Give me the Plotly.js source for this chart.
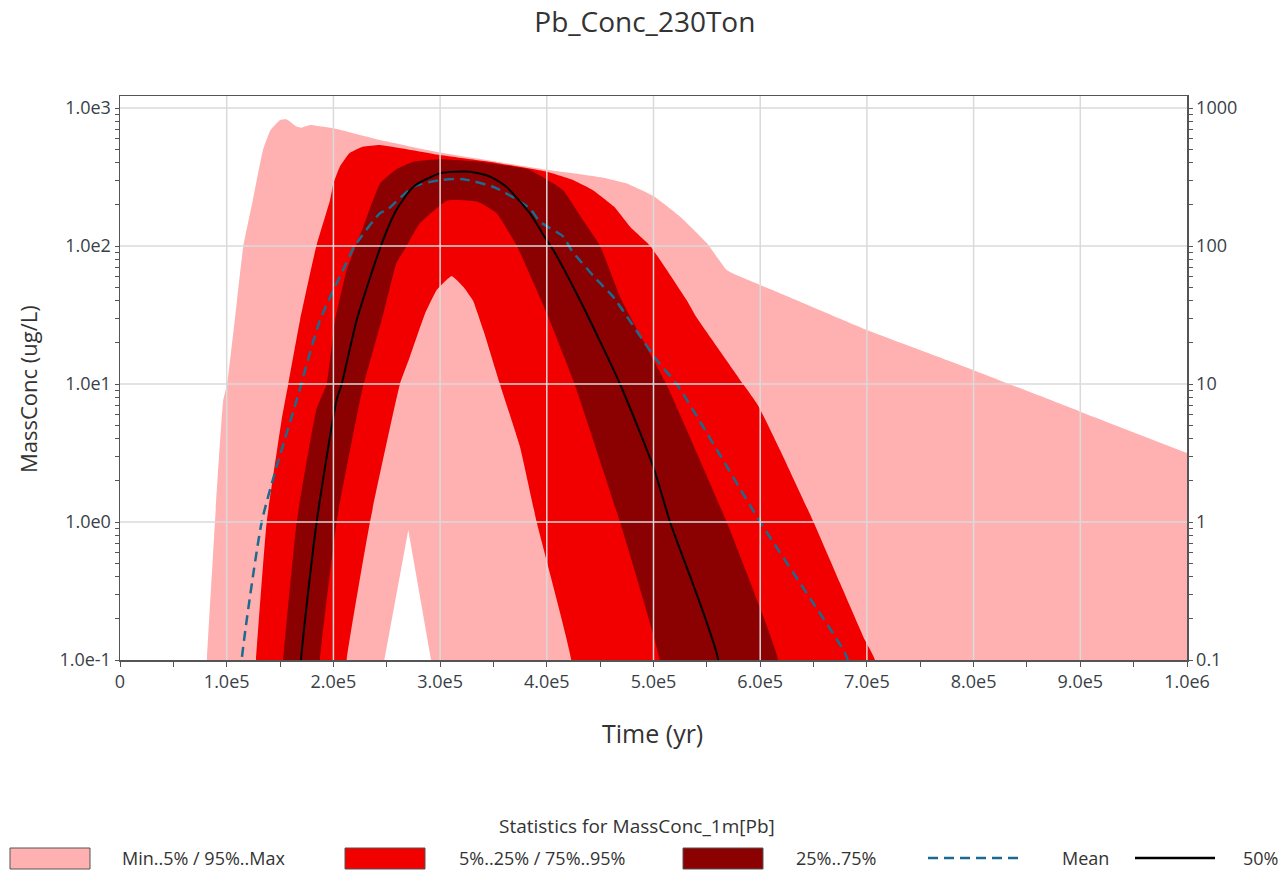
<!DOCTYPE html>
<html>
<head>
<meta charset="utf-8">
<script src="https://cdn.plot.ly/plotly-3.0.1.min.js"></script>
<style>html,body{margin:0;padding:0;background:#fff;}#chart{width:1282px;height:872px;}</style>
</head>
<body>
<div id="chart"></div>
<script>
// ---------- data (time in years, MassConc in ug/L; 0.01 = below axis) ----------
const timeMax = [0, 75000, 81500, 89000, 96800, 100500, 109700, 115600, 124500, 134000, 141000, 150000, 156000, 165600, 170000, 178000, 200000, 243700, 300000, 353000, 396000, 425000, 456000, 475000, 500000, 525000, 550000, 568600, 581000, 618600, 700000, 800000, 900000, 1000000];
const valMax  = [0.01, 0.01, 0.1, 1, 7.66, 10, 40.6, 100, 215, 496, 690, 819, 830, 733, 720, 753, 713, 586, 475, 408, 360, 336, 309, 284, 230, 163, 105, 67, 60, 45.4, 24.6, 12.6, 6.3, 3.16];

const timeMin = [0, 240000, 247700, 270200, 291500, 298000, 1000000];
const valMin  = [0.01, 0.01, 0.1, 0.875, 0.1, 0.01, 0.01];

const timeP95 = [0, 120000, 127500, 137500, 151500, 157700, 168700, 184000, 196800, 200000, 206000, 215000, 228000, 243700, 300000, 353000, 400000, 425000, 443000, 463000, 478000, 497000, 531000, 540000, 584000, 598000, 618600, 650000, 674800, 698000, 707600, 715000, 1000000];
const valP95  = [0.01, 0.01, 0.1, 1, 5.5, 10, 29, 100, 215, 284, 376, 470, 525, 540, 456, 400, 345, 300, 255, 193, 138, 100, 40.6, 30.7, 10, 7, 3.33, 1, 0.361, 0.14, 0.1, 0.01, 0.01];

const timeP5 = [0, 205000, 212500, 234300, 262400, 271800, 286000, 296800, 310800, 321700, 331000, 340500, 356000, 374900, 390500, 423000, 430000, 1000000];
const valP5  = [0.01, 0.01, 0.1, 1, 10, 15.8, 32.5, 48, 60.7, 50.7, 40, 24.6, 10, 3.5, 1, 0.1, 0.01, 0.01];

const timeP75 = [0, 145000, 153000, 165600, 184000, 193700, 201500, 212500, 228000, 243700, 259000, 275000, 300000, 337000, 384000, 415000, 435000, 450000, 470000, 512000, 568600, 617000, 625000, 1000000];
const valP75  = [0.01, 0.01, 0.1, 1, 6.5, 10, 29, 67, 138, 284, 360, 408, 425, 408, 356, 255, 150, 100, 40.6, 10, 1, 0.1, 0.01, 0.01];

const timeP25 = [0, 180000, 187400, 203000, 227000, 247000, 259000, 268700, 281000, 306000, 320000, 335000, 353000, 372000, 400000, 426000, 468600, 506000, 515000, 1000000];
const valP25  = [0.01, 0.01, 0.1, 1, 9, 32.5, 75, 100, 146, 213, 215, 210, 173, 100, 32.5, 10, 1, 0.1, 0.01, 0.01];

const timeP50 = [0, 162000, 169600, 184300, 203000, 207800, 221800, 244500, 259000, 275000, 300000, 328000, 346800, 362000, 384000, 400000, 406000, 431000, 468600, 499700, 515500, 560700, 568000, 1000000];
const valP50  = [0.01, 0.01, 0.1, 1, 7.66, 10, 29, 100, 182, 269, 336, 345, 318, 269, 173, 110, 93.6, 40.6, 10, 2.52, 1, 0.1, 0.01, 0.01];

const timeMean = [0, 105000, 114000, 132800, 146800, 165600, 187400, 209000, 220000, 243700, 250000, 275000, 300000, 321700, 353000, 384000, 393600, 415500, 423000, 446800, 462000, 503000, 521700, 600000, 678000, 682000, 690000, 1000000];
const valMean  = [0.01, 0.01, 0.1, 1, 2.52, 7.66, 29, 67, 100, 173, 182, 269, 300, 305, 262, 187, 150, 117, 93.6, 57, 43, 14.9, 10, 1, 0.118, 0.1, 0.01, 0.01];

// ---------- ticks ----------
const xTickVals = [0, 100000, 200000, 300000, 400000, 500000, 600000, 700000, 800000, 900000, 1000000];
const xTickText = ['0', '1.0e5', '2.0e5', '3.0e5', '4.0e5', '5.0e5', '6.0e5', '7.0e5', '8.0e5', '9.0e5', '1.0e6'];
const yTickVals = [0.1, 1, 10, 100, 1000];
const yTickTextLeft = ['1.0e-1', '1.0e0', '1.0e1', '1.0e2', '1.0e3'];
const yTickTextRight = ['0.1', '1', '10', '100', '1000'];

const legendLabels = ['Min..5% / 95%..Max', '5%..25% / 75%..95%', '25%..75%', 'Mean', '50%'];

// ---------- style ----------
const C_PINK = '#ffb1b1', C_RED = '#f20000', C_DARK = '#8b0000', C_MEAN = '#1a6b8e', C_MED = '#000000';
const AX = '#555555', GRID = '#dadada', TXT = '#333333';
const FONT = 'Open Sans, Noto Sans, sans-serif';
const M = {l: 120, r: 95, t: 96, b: 212};
const W = 1282, H = 872;
const PW = W - M.l - M.r, PH = H - M.t - M.b;
const yRange = [-1, 3.087];
const px2x = p => (p - M.l) / PW;
const py2y = p => (H - M.b - p) / PH;

const minorY = [];
for (let d = -1; d <= 2; d++) for (let k = 2; k <= 9; k++) minorY.push(k * Math.pow(10, d));
const minorX = [];
for (let v = 50000; v < 1000000; v += 100000) minorX.push(v);

const fillLine = {width: 0, shape: 'spline', smoothing: 0.35};
const traces = [
  {x: timeMin, y: valMin, mode: 'lines', line: {width: 0}, hoverinfo: 'skip', showlegend: false},
  {x: timeMax, y: valMax, mode: 'lines', line: fillLine, fill: 'tonexty', fillcolor: C_PINK, showlegend: false, name: legendLabels[0]},
  {x: timeP5, y: valP5, mode: 'lines', line: fillLine, hoverinfo: 'skip', showlegend: false},
  {x: timeP95, y: valP95, mode: 'lines', line: fillLine, fill: 'tonexty', fillcolor: C_RED, showlegend: false, name: legendLabels[1]},
  {x: timeP25, y: valP25, mode: 'lines', line: fillLine, hoverinfo: 'skip', showlegend: false},
  {x: timeP75, y: valP75, mode: 'lines', line: fillLine, fill: 'tonexty', fillcolor: C_DARK, showlegend: false, name: legendLabels[2]},
  {x: timeMean, y: valMean, mode: 'lines', line: {color: C_MEAN, width: 2.5, dash: '10px,6px', shape: 'spline', smoothing: 0.6}, showlegend: false, name: legendLabels[3]},
  {x: timeP50, y: valP50, mode: 'lines', line: {color: C_MED, width: 2, shape: 'spline', smoothing: 0.6}, showlegend: false, name: legendLabels[4]},
  {x: timeP50, y: valP50, mode: 'lines', yaxis: 'y2', line: {width: 0}, opacity: 0, hoverinfo: 'skip', showlegend: false}
];

// gridlines above the fills
const shapes = [];
xTickVals.slice(1, -1).forEach(v => shapes.push({type: 'line', layer: 'above', xref: 'x', yref: 'paper', x0: v, x1: v, y0: 0, y1: 1, line: {color: GRID, width: 1.5}}));
yTickVals.slice(1).forEach(v => {
  const yp = (Math.log10(v) - yRange[0]) / (yRange[1] - yRange[0]);
  shapes.push({type: 'line', layer: 'above', xref: 'paper', yref: 'paper', x0: 0, x1: 1, y0: yp, y1: yp, line: {color: GRID, width: 1.5}});
});

// axis titles + manual legend
const annotations = [];
annotations.push({xref: 'paper', yref: 'paper', x: px2x(652), y: py2y(733), text: 'Time (yr)', showarrow: false, xanchor: 'center', yanchor: 'middle', font: {family: FONT, size: 25, color: TXT}});
annotations.push({xref: 'paper', yref: 'paper', x: px2x(28), y: py2y(389), text: 'MassConc (ug/L)', textangle: -90, showarrow: false, xanchor: 'center', yanchor: 'middle', font: {family: FONT, size: 22, color: TXT}});
const legY = 858;
annotations.push({xref: 'paper', yref: 'paper', x: px2x(637), y: py2y(826), text: 'Statistics for MassConc_1m[Pb]', showarrow: false, xanchor: 'center', yanchor: 'middle', font: {family: FONT, size: 19, color: TXT}});
const boxes = [[10, 90, C_PINK, 120], [345, 425, C_RED, 457], [683, 763, C_DARK, 794]];
boxes.forEach((b, i) => {
  shapes.push({type: 'rect', xref: 'paper', yref: 'paper', x0: px2x(b[0]), x1: px2x(b[1]), y0: py2y(848), y1: py2y(869), fillcolor: b[2], line: {color: '#555', width: 1}});
  annotations.push({xref: 'paper', yref: 'paper', x: px2x(b[3]), y: py2y(legY), text: legendLabels[i], showarrow: false, xanchor: 'left', yanchor: 'middle', font: {family: FONT, size: 18, color: TXT}});
});
shapes.push({type: 'line', xref: 'paper', yref: 'paper', x0: px2x(928), x1: px2x(1020), y0: py2y(legY), y1: py2y(legY), line: {color: C_MEAN, width: 2.5, dash: '10px,6px'}});
annotations.push({xref: 'paper', yref: 'paper', x: px2x(1060), y: py2y(legY), text: legendLabels[3], showarrow: false, xanchor: 'left', yanchor: 'middle', font: {family: FONT, size: 18, color: TXT}});
shapes.push({type: 'line', xref: 'paper', yref: 'paper', x0: px2x(1135), x1: px2x(1215), y0: py2y(legY), y1: py2y(legY), line: {color: C_MED, width: 2.5}});
annotations.push({xref: 'paper', yref: 'paper', x: px2x(1280), y: py2y(legY), text: legendLabels[4], showarrow: false, xanchor: 'right', yanchor: 'middle', font: {family: FONT, size: 18, color: TXT}});

const tickFont = {family: FONT, size: 18, color: '#3a3f48'};
const layout = {
  width: W, height: H, margin: M,
  paper_bgcolor: '#ffffff', plot_bgcolor: '#ffffff',
  font: {family: FONT, color: TXT},
  title: {text: 'Pb_Conc_230Ton', x: 0.503, xref: 'container', xanchor: 'center', y: 0.975, yref: 'container', yanchor: 'middle', font: {family: FONT, size: 28, color: TXT}},
  showlegend: false,
  xaxis: {
    range: [0, 1000000], tickmode: 'array', tickvals: xTickVals, ticktext: xTickText,
    ticks: 'outside', ticklen: 5, tickwidth: 1, tickcolor: AX,
    showline: true, linecolor: AX, linewidth: 1.5, mirror: true,
    showgrid: false, zeroline: false, tickfont: tickFont,
    minor: {tickmode: 'array', tickvals: minorX, ticks: 'outside', ticklen: 5, tickcolor: AX, showgrid: false}
  },
  yaxis: {
    type: 'log', range: yRange, tickmode: 'array', tickvals: yTickVals, ticktext: yTickTextLeft,
    ticks: 'outside', ticklen: 4, tickwidth: 1, tickcolor: AX,
    showline: true, linecolor: AX, linewidth: 1.5,
    showgrid: false, zeroline: false, tickfont: tickFont,
    minor: {tickmode: 'array', tickvals: minorY, ticks: 'outside', ticklen: 4, tickcolor: AX, showgrid: false}
  },
  yaxis2: {
    type: 'log', range: yRange, overlaying: 'y', side: 'right', anchor: 'x',
    tickmode: 'array', tickvals: yTickVals, ticktext: yTickTextRight,
    ticks: 'outside', ticklen: 4, tickwidth: 1, tickcolor: AX,
    showline: true, linecolor: AX, linewidth: 1.5,
    showgrid: false, zeroline: false, tickfont: tickFont,
    minor: {tickmode: 'array', tickvals: minorY, ticks: 'outside', ticklen: 4, tickcolor: AX, showgrid: false}
  },
  shapes: shapes,
  annotations: annotations
};

Plotly.newPlot('chart', traces, layout, {staticPlot: true, displayModeBar: false});
</script>
</body>
</html>
